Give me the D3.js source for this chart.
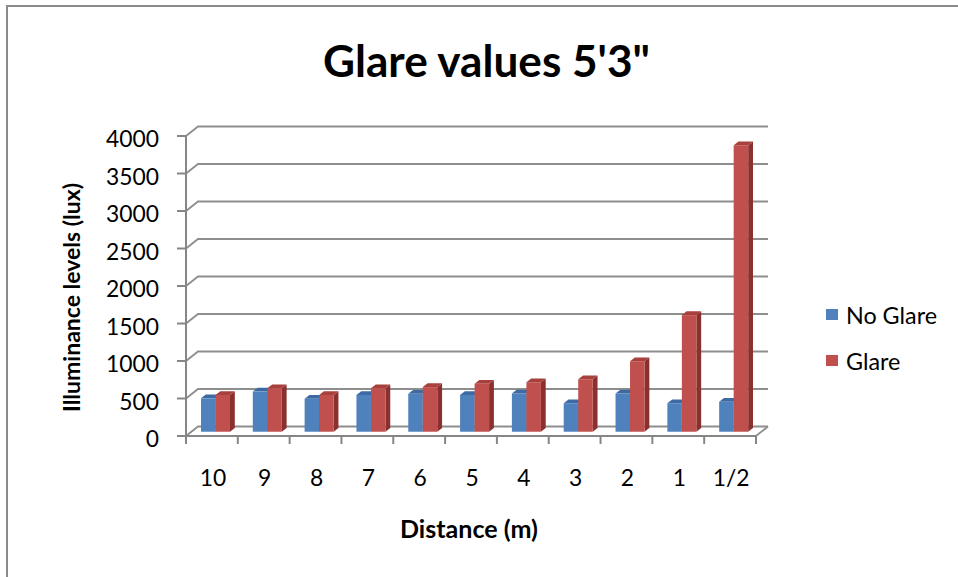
<!DOCTYPE html>
<html>
<head>
<meta charset="utf-8">
<script src="https://cdn.jsdelivr.net/npm/d3@7"></script>
<style>
  html, body { margin: 0; padding: 0; background: #fff; }
  svg { display: block; }
  text { font-family: Lato, "Open Sans", "DejaVu Sans", sans-serif; fill: #000; }
</style>
</head>
<body>
<svg id="chart" width="958" height="577"></svg>
<script>
// ---- data ----
const categories = ["10", "9", "8", "7", "6", "5", "4", "3", "2", "1", "1/2"];
const seriesNames = ["No Glare", "Glare"];
const noGlare = [445, 535, 440, 490, 505, 490, 510, 380, 510, 380, 400];
const glare   = [490, 580, 490, 580, 595, 640, 660, 700, 940, 1555, 3820];
const yTicks = [0, 500, 1000, 1500, 2000, 2500, 3000, 3500, 4000];
const titleText = "Glare values 5'3\"";
const xTitle = "Distance (m)";
const yTitle = "Illuminance levels (lux)";

// ---- styles ----
const colors = { "No Glare": "#4F81BD", "Glare": "#C0504D" };
const topColors = { "No Glare": "#3D6AA2", "Glare": "#A8413E" };
const sideColors = { "No Glare": "#2F5582", "Glare": "#8A302E" };
const gridColor = "#8e8e8e";

const svg = d3.select("#chart");

// 3D depth offsets
const DX = 12, DY = -9.5;
const x = d3.scaleBand().domain(categories).range([186, 756]);
const y = d3.scaleLinear().domain([0, 4000]).range([436, 136]);
const band = x.bandwidth();

function fit(sel, target) {
  const n = sel.node();
  const fs = parseFloat(sel.attr("font-size"));
  const w = n.getComputedTextLength();
  const nfs = fs * target / w;
  sel.attr("font-size", nfs.toFixed(2));
  return nfs;
}

// border
svg.append("path").attr("d", "M7,577 V6 H958").attr("fill", "none")
  .attr("stroke", "#8a8a8a").attr("stroke-width", 2);

// title
const title = svg.append("text").attr("x", 486.5).attr("y", 77)
  .attr("text-anchor", "middle").attr("font-weight", "bold").attr("font-size", 34)
  .text(titleText);
fit(title, 327);

// back wall gridlines + left wall diagonals
const grid = svg.append("g").attr("stroke", gridColor).attr("stroke-width", 1.8).attr("fill", "none");
yTicks.forEach(t => {
  const yf = y(t);
  grid.append("path").attr("d",
    `M${x.range()[0]},${yf} L${x.range()[0] + DX},${yf + DY} L${x.range()[1] + DX},${yf + DY}`);
});
// floor right edge
grid.append("line")
  .attr("x1", x.range()[1]).attr("y1", y(0))
  .attr("x2", x.range()[1] + DX).attr("y2", y(0) + DY);

// bars
const f0 = 0.45, f1 = 0.85;
const bw = band * 0.28;
const groupOffset = band * 0.185;
const sub = d3.scaleBand().domain(seriesNames).range([0, bw * 2]);
const series = { "No Glare": noGlare, "Glare": glare };
const barsG = svg.append("g");
categories.forEach((c, i) => {
  seriesNames.forEach(s => {
    const v = series[s][i];
    const xl = x(c) + groupOffset + sub(s) + DX * f0;
    const xr = xl + sub.bandwidth();
    const yb = y(0) + DY * f0;
    const yt = y(v) + DY * f0;
    const ddx = DX * (f1 - f0), ddy = DY * (f1 - f0);
    barsG.append("path")
      .attr("d", `M${xr},${yb} L${xr + ddx},${yb + ddy} L${xr + ddx},${yt + ddy} L${xr},${yt} Z`)
      .attr("fill", sideColors[s]);
    barsG.append("path")
      .attr("d", `M${xl},${yt} L${xl + ddx},${yt + ddy} L${xr + ddx},${yt + ddy} L${xr},${yt} Z`)
      .attr("fill", topColors[s]);
    barsG.append("rect")
      .attr("x", xl).attr("y", yt).attr("width", xr - xl).attr("height", yb - yt)
      .attr("fill", colors[s]);
  });
});

// front axes
const ax = svg.append("g").attr("stroke", "#868686").attr("stroke-width", 2).attr("fill", "none");
ax.append("line").attr("x1", 186).attr("x2", 186).attr("y1", y(4000)).attr("y2", y(0) + 8);
yTicks.forEach(t => {
  ax.append("line").attr("x1", 177).attr("x2", 186).attr("y1", y(t)).attr("y2", y(t));
});
ax.append("line").attr("x1", x.range()[0]).attr("x2", x.range()[1]).attr("y1", y(0)).attr("y2", y(0));
const bounds = categories.map(c => x(c)).concat([x.range()[1]]);
bounds.forEach(b => {
  ax.append("line").attr("x1", b).attr("x2", b).attr("y1", y(0)).attr("y2", y(0) + 8);
});

// y tick labels
const yl = svg.append("g").selectAll("text").data(yTicks).join("text")
  .attr("x", 159).attr("y", d => y(d) + 2)
  .attr("text-anchor", "end").attr("dominant-baseline", "central")
  .attr("font-size", 21).text(d => d);
const tickFs = fit(yl.filter(d => d === 4000), 53);
yl.attr("font-size", tickFs.toFixed(2));

// x tick labels
svg.append("g").selectAll("text").data(categories).join("text")
  .attr("x", d => x(d) + band / 2 + 1).attr("y", 486)
  .attr("text-anchor", "middle").attr("font-size", tickFs.toFixed(2)).text(d => d);

// axis titles
const xt = svg.append("text").attr("x", 469).attr("y", 538)
  .attr("text-anchor", "middle").attr("font-weight", "bold").attr("font-size", 20).text(xTitle);
fit(xt, 138);
const ytl = svg.append("text").attr("transform", "translate(80,297.5) rotate(-90)")
  .attr("text-anchor", "middle").attr("font-weight", "bold").attr("font-size", 20).text(yTitle);
fit(ytl, 229);

// legend
const legend = svg.append("g");
const legendY = [315, 361];
let lfs = 21;
seriesNames.forEach((s, i) => {
  legend.append("rect").attr("x", 826).attr("y", legendY[i] - 6).attr("width", 12).attr("height", 11)
    .attr("fill", colors[s]);
  const t = legend.append("text").attr("x", 846).attr("y", legendY[i])
    .attr("dominant-baseline", "central").attr("font-size", lfs).text(s);
  if (i === 0) lfs = fit(t, 91);
  else t.attr("font-size", lfs.toFixed(2));
});
</script>
</body>
</html>
